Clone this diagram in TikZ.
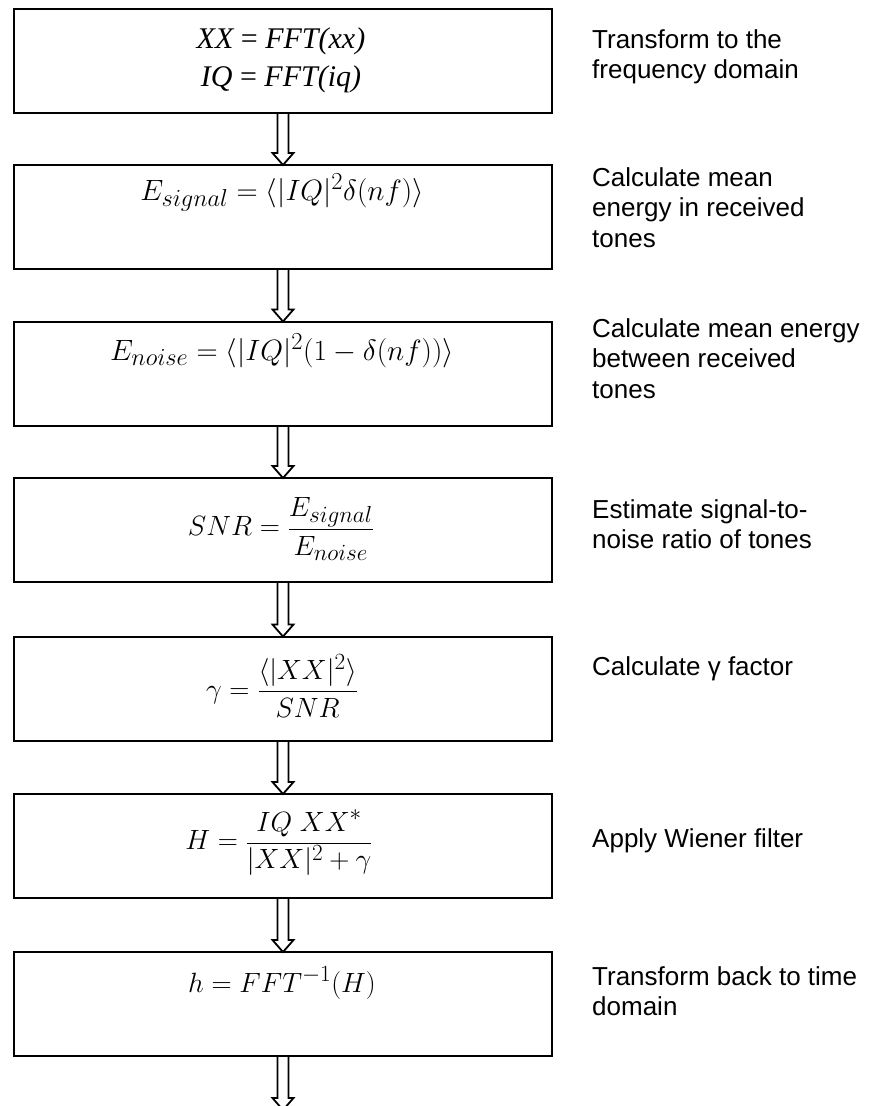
\documentclass[tikz,border=0pt]{standalone}
\usepackage{graphicx}
\usepackage{fontspec}
\setmainfont{Liberation Sans}
\newfontfamily\tnr{Liberation Serif}
\usetikzlibrary{calc}
\tikzset{
  box/.style={draw, line width=2pt, minimum width=538pt, minimum height=104pt, inner sep=0pt, outer sep=0pt},
  desc/.style={anchor=north west, align=left, inner sep=0pt, font=\fontsize{26}{30.5}\selectfont},
  frm/.style={inner sep=0pt, font=\fontsize{24.88}{30}\selectfont},
  tnrline/.style={inner sep=0pt, anchor=base, font=\fontsize{30}{36}\selectfont\tnr\itshape},
  blockarr/.style={draw, line width=1.8pt, line join=miter}
}
\newcommand{\blockarrow}[2]{%
  \draw[blockarr] ($#1+(-5.5,0)$) -- ($#2+(-5.5,-12)$) -- ($#2+(-10.5,-12)$) -- #2
    -- ($#2+(10.5,-12)$) -- ($#2+(5.5,-12)$) -- ($#1+(5.5,0)$);}
\begin{document}
\begin{tikzpicture}[x=1pt,y=-1pt]
\useasboundingbox (0,0) rectangle (876,1106);
\fill[white] (0,0) rectangle (876,1106);
% boxes
\node[box] (b1) at (283,61) {};
\node[box] (b2) at (283,217) {};
\node[box] (b3) at (283,373.5) {};
\node[box] (b4) at (283,530) {};
\node[box] (b5) at (283,688.5) {};
\node[box] (b6) at (283,846) {};
\node[box] (b7) at (283,1004) {};
\coordinate (end) at (283,1110);
% formulas
\node[tnrline] (f1a) at (281,48) {XX {\upshape=} FFT(xx)};
\node[tnrline] (f1b) at (281,86) {IQ {\upshape=} FFT(iq)};
\node[frm, anchor=base] (f2) at (282,200) {\scalebox{1.18}{$E_{signal} = \langle |IQ|^2\delta(nf)\rangle$}};
\node[frm, anchor=base] (f3) at (282,360) {\scalebox{1.18}{$E_{noise} = \langle |IQ|^2\bigl(1-\delta(nf)\bigr)\rangle$}};
\node[frm] (f4) at (281,529) {\scalebox{1.12}{$\displaystyle SNR = \frac{E_{signal}}{E_{noise}}$}};
\node[frm] (f5) at (282,686) {\scalebox{1.12}{$\displaystyle \gamma = \frac{\langle |XX|^2\rangle}{SNR}$}};
\node[frm] (f6) at (279,843) {\scalebox{1.12}{$\displaystyle H = \frac{IQ\;XX^{*}}{|XX|^2+\gamma}$}};
\node[frm, anchor=base] (f7) at (282,992) {\scalebox{1.12}{$h = FFT^{-1}(H)$}};
% descriptions
\node[desc] (t1) at (592,29) {Transform to the\\frequency domain};
\node[desc] (t2) at (592,167) {Calculate mean\\energy in received\\tones};
\node[desc] (t3) at (592,318) {Calculate mean energy\\between received\\tones};
\node[desc] (t4) at (592,499) {Estimate signal-to-\\noise ratio of tones};
\node[desc] (t5) at (592,656) {Calculate γ factor};
\node[desc] (t6) at (592,828) {Apply Wiener filter};
\node[desc] (t7) at (592,966) {Transform back to time\\domain};
% arrows
\blockarrow{(b1.south)}{(b2.north)}
\blockarrow{(b2.south)}{(b3.north)}
\blockarrow{(b3.south)}{(b4.north)}
\blockarrow{(b4.south)}{(b5.north)}
\blockarrow{(b5.south)}{(b6.north)}
\blockarrow{(b6.south)}{(b7.north)}
\blockarrow{(b7.south)}{(end)}
\end{tikzpicture}
\end{document}
